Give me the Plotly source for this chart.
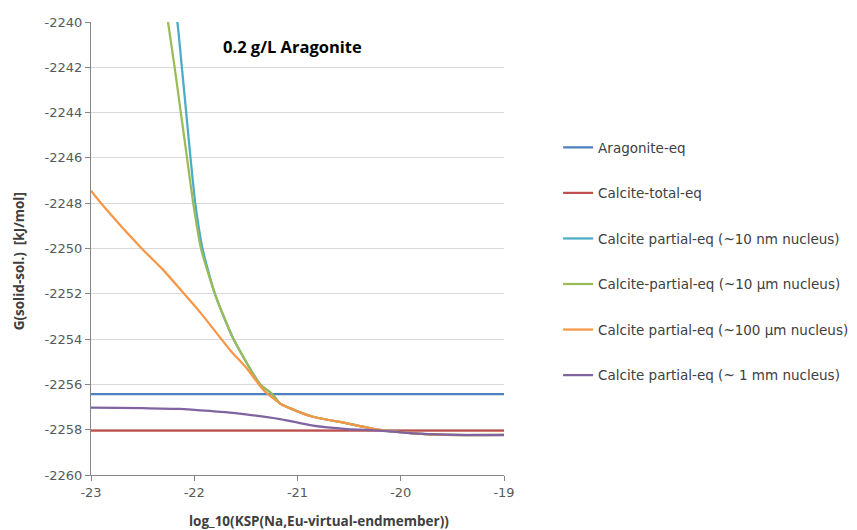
import plotly.graph_objects as go

# ---- data ----
x_flat = [-23, -19]
aragonite_eq = [-2256.43, -2256.43]
calcite_total_eq = [-2258.04, -2258.04]

x_10nm = [-22.21, -22.164, -22.12, -22.078, -22.036, -21.99, -21.92, -21.80, -21.62,
          -21.36, -21.25, -21.17, -21.07, -20.85, -20.52, -20.2, -19.88, -19.56, -19.0]
y_10nm = [-2238.9, -2240, -2242, -2244, -2246, -2248, -2250, -2252, -2254,
          -2256, -2256.4, -2256.84, -2257.06, -2257.43, -2257.72, -2258.01, -2258.16, -2258.23, -2258.23]

x_10um = [-22.29, -22.254, -22.19, -22.13, -22.07, -22.01, -21.935, -21.80, -21.62,
          -21.36, -21.25, -21.17, -21.07, -20.85, -20.52, -20.2, -19.88, -19.56, -19.0]
y_10um = [-2238.9, -2240, -2242, -2244, -2246, -2248, -2250, -2252, -2254,
          -2256, -2256.4, -2256.84, -2257.06, -2257.43, -2257.72, -2258.01, -2258.16, -2258.23, -2258.23]

x_100um = [-23.0, -22.903, -22.509, -22.31, -22.14, -21.944, -21.815, -21.65, -21.49,
           -21.33, -21.17, -21.07, -20.85, -20.52, -20.2, -19.88, -19.56, -19.0]
y_100um = [-2247.45, -2248.0, -2250.0, -2250.9, -2251.78, -2252.81, -2253.55, -2254.5, -2255.3,
           -2256.25, -2256.84, -2257.06, -2257.43, -2257.72, -2258.01, -2258.16, -2258.23, -2258.23]

x_1mm = [-23.0, -22.5, -22.14, -22.0, -21.7, -21.5, -21.17, -20.85, -20.52, -20.2, -19.88, -19.56, -19.0]
y_1mm = [-2257.02, -2257.05, -2257.08, -2257.12, -2257.22, -2257.32, -2257.53, -2257.82, -2257.97,
         -2258.04, -2258.16, -2258.22, -2258.24]

names = ["Aragonite-eq", "Calcite-total-eq", "Calcite partial-eq (~10 nm nucleus)",
         "Calcite-partial-eq (~10 µm nucleus)", "Calcite partial-eq (~100 µm nucleus)",
         "Calcite partial-eq (~ 1 mm nucleus)"]
colors = ["#4f81bd", "#c0504d", "#4bacc6", "#9bbb59", "#f79646", "#8064a2"]

x_ticks = [-23, -22, -21, -20, -19]
y_ticks = list(range(-2260, -2239, 2))

series = [
    (x_flat, aragonite_eq),
    (x_flat, calcite_total_eq),
    (x_10nm, y_10nm),
    (x_10um, y_10um),
    (x_100um, y_100um),
    (x_1mm, y_1mm),
]

fig = go.Figure()
for i, ((xs, ys), nm, c) in enumerate(zip(series, names, colors)):
    fig.add_trace(go.Scatter(x=xs, y=ys, mode="lines", name=nm, legendgroup=str(i),
                             line=dict(color=c, width=2.25, shape="spline", smoothing=0.6)))

BOLD = "Open Sans"
TXT = "DejaVu Sans"
fig.update_layout(
    width=880, height=522,
    paper_bgcolor="white", plot_bgcolor="white",
    margin=dict(l=83, r=384, t=14, b=55),
    font=dict(family=TXT, color="#404040", size=12),
    legend=dict(x=1.131, xanchor="left", y=0.757, yanchor="top",
                font=dict(size=13.5, color="#404040", family=TXT),
                tracegroupgap=25, bgcolor="rgba(0,0,0,0)"),
    xaxis=dict(range=[-23, -19], tickvals=x_ticks, ticktext=[str(v) for v in x_ticks],
               automargin=False,
               showgrid=False, zeroline=False, showline=True, linecolor="#868686", linewidth=1,
               ticks="outside", ticklen=5, tickcolor="#868686",
               tickfont=dict(size=13, color="#595959", family=TXT)),
    yaxis=dict(range=[-2260, -2240], tickvals=y_ticks, ticktext=[str(v) for v in y_ticks],
               automargin=False,
               showgrid=True, gridcolor="#d9d9d9", gridwidth=1, zeroline=False,
               showline=True, linecolor="#868686", linewidth=1,
               ticks="outside", ticklen=5, tickcolor="#868686",
               tickfont=dict(size=13, color="#595959", family=TXT)),
    annotations=[
        dict(text="<b>0.2 g/L Aragonite</b>", xref="paper", yref="paper",
             x=0.489, y=0.945, xanchor="center", yanchor="middle", showarrow=False,
             font=dict(size=16.5, color="#000000", family=BOLD)),
        dict(text="<b>log_10(KSP(Na,Eu-virtual-endmember))</b>", xref="paper", yref="paper",
             x=0.552, y=-0.101, xanchor="center", yanchor="middle", showarrow=False,
             font=dict(size=13.5, color="#404040", family=BOLD)),
        dict(text="<b>G(solid-sol.)  [kJ/mol]</b>", xref="paper", yref="paper",
             x=-0.174, y=0.472, xanchor="center", yanchor="middle", showarrow=False,
             textangle=-90, font=dict(size=13.5, color="#404040", family=BOLD)),
    ],
)

fig.write_html("out.html")
